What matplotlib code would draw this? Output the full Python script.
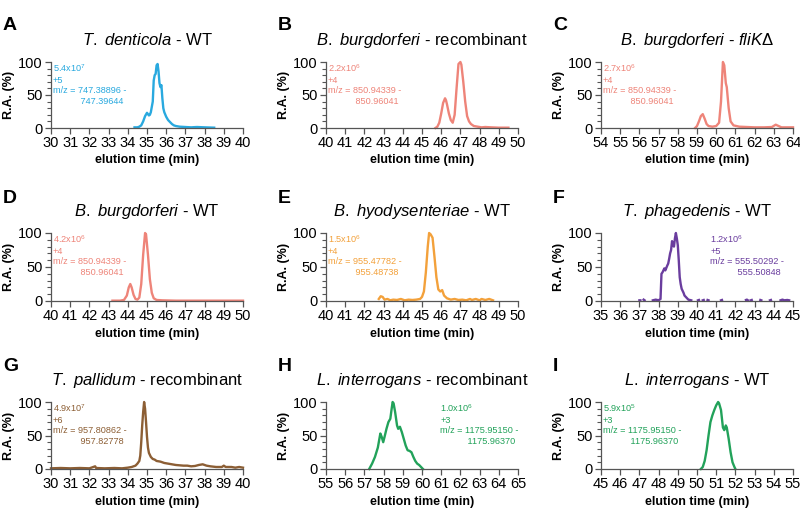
import numpy as np
import matplotlib
matplotlib.use("Agg")
import matplotlib.pyplot as plt
from matplotlib.ticker import MultipleLocator

plt.rcParams['font.family'] = ['Liberation Sans', 'DejaVu Sans']
plt.rcParams['mathtext.fontset'] = 'custom'
plt.rcParams['mathtext.rm'] = 'Liberation Sans'
plt.rcParams['mathtext.it'] = 'Liberation Sans:italic'
plt.rcParams['mathtext.bf'] = 'Liberation Sans:bold'

nan = np.nan

# ---------------- data ----------------
panel_letters = ["A", "B", "C", "D", "E", "F", "G", "H", "I"]
titles = [
    r"$\mathit{T.\ denticola}$ - WT",
    r"$\mathit{B.\ burgdorferi}$ - recombinant",
    r"$\mathit{B.\ burgdorferi}$ - $\mathit{fliK}$Δ",
    r"$\mathit{B.\ burgdorferi}$ - WT",
    r"$\mathit{B.\ hyodysenteriae}$ - WT",
    r"$\mathit{T.\ phagedenis}$ - WT",
    r"$\mathit{T.\ pallidum}$ - recombinant",
    r"$\mathit{L.\ interrogans}$ - recombinant",
    r"$\mathit{L.\ interrogans}$ - WT",
]
x_ranges = [(30, 40), (40, 50), (54, 64), (40, 50), (40, 50), (35, 45), (30, 40), (55, 65), (45, 55)]
intensities = ["5.4x10$^7$", "2.2x10$^6$", "2.7x10$^6$", "4.2x10$^6$", "1.5x10$^6$",
               "1.2x10$^6$", "4.9x10$^7$", "1.0x10$^6$", "5.9x10$^5$"]
charges = ["+5", "+4", "+4", "+4", "+4", "+5", "+6", "+3", "+3"]
mz_low = ["747.38896", "850.94339", "850.94339", "850.94339", "955.47782",
          "555.50292", "957.80862", "1175.95150", "1175.95150"]
mz_high = ["747.39644", "850.96041", "850.96041", "850.96041", "955.48738",
           "555.50848", "957.82778", "1175.96370", "1175.96370"]
colors = ["#29a9df", "#ee8479", "#ee8479", "#ee8479", "#f3a13b",
          "#6a3d9e", "#8c5e34", "#22a25a", "#22a25a"]

a_time = [34.35, 34.5, 34.6, 34.7, 34.8, 34.9, 35.0, 35.05, 35.1, 35.15, 35.2, 35.3, 35.35, 35.4,
          35.45, 35.5, 35.55, 35.6, 35.65, 35.7, 35.75, 35.8, 35.85, 35.9, 36.0, 36.1, 36.2, 36.3,
          36.4, 36.5, 36.7, 37.0, 37.3, 37.6, 38.0, 38.5]
a_ra = [1, 1, 2, 4, 10, 18, 23, 21, 19, 20, 24, 40, 72, 80, 82, 95, 97, 86, 68, 62, 65, 45, 30, 24,
        17, 12, 9, 6, 4, 3, 2, 1.5, 1, 1.5, 1, 0.5]

b_time = [45.7, 45.8, 45.9, 46.0, 46.1, 46.2, 46.25, 46.3, 46.4, 46.5, 46.6, 46.7, 46.8, 46.9, 47.0,
          47.05, 47.15, 47.25, 47.35, 47.45, 47.55, 47.7, 47.9, 48.1, 48.3, 48.6, 49.0, 49.5]
b_ra = [0, 2, 8, 22, 38, 45, 42, 36, 22, 12, 8, 20, 60, 97, 100, 96, 70, 40, 18, 10, 6, 3, 2, 1,
        1.5, 1, 0.5, 0.5]

c_time = [58.9, 59.0, 59.1, 59.2, 59.3, 59.4, 59.5, 59.6, 59.8, 60.0, 60.15, 60.25, 60.35, 60.42,
          60.5, 60.55, 60.65, 60.75, 60.9, 61.2, 61.6, 62.0, 62.5, 62.9, 63.1, 63.25, 63.4, 64.0]
c_ra = [0, 3, 10, 18, 21, 14, 6, 3, 2, 3, 8, 40, 100, 95, 68, 62, 30, 10, 4, 2, 1.5, 1, 1, 1.5, 5,
        3, 1, 1]

d_time = [43.2, 43.6, 43.8, 43.95, 44.05, 44.13, 44.2, 44.3, 44.4, 44.5, 44.6, 44.7, 44.8, 44.9,
          44.95, 45.05, 45.15, 45.25, 45.35, 45.5, 45.8, 46.5, 50.0]
d_ra = [0.5, 0.5, 1.5, 8, 20, 25, 20, 9, 3, 2, 5, 25, 68, 100, 98, 68, 32, 12, 4, 1.5, 1, 0.5, 0.5]

e_time = [42.75, 42.85, 42.95, 43.05, 43.2, 43.35, 43.5, 43.7, 43.9, 44.1, 44.3, 44.5, 44.7, 44.9,
          45.0, 45.1, 45.2, 45.3, 45.37, 45.45, 45.55, 45.65, 45.75, 45.85, 45.95, 46.05, 46.15,
          46.3, 46.5, 46.7, 46.9, 47.1, 47.3, 47.5, 47.6, 47.8, 48.0, 48.1, 48.3, 48.5, 48.7]
e_ra = [3, 7, 6, 2, 3, 1, 2, 1.5, 3, 1, 2, 1.5, 2, 3, 6, 14, 42, 80, 100, 98, 93, 65, 35, 17, 14,
        16, 8, 4, 2, 3, 1.5, 2, 1, 3, 1.5, 3, 1, 3, 1.5, 3, 1]

f_time = [37.0, 37.05, nan, 37.22, 37.27, nan, 37.7, 37.85, 38.0, 38.1, 38.15, 38.2, 38.3, 38.35,
          38.45, 38.5, 38.55, 38.6, 38.65, 38.7, 38.75, 38.8, 38.85, 38.9, 38.95, 39.0, 39.05, 39.1,
          39.15, 39.2, 39.3, 39.35, 39.45, 39.55, 39.7, nan, 40.05, 40.1, nan, 40.3, 40.35, nan,
          40.55, 40.6, nan, 41.25, 41.3, nan, 42.55, 42.6, 42.65, nan, 42.8, 42.85, nan, 43.3,
          43.35, nan, 43.8, 43.85, nan, 44.35, 44.45, 44.55, 44.7, 44.8]
f_ra = [1, 1, nan, 2, 1, nan, 1, 2, 1, 3, 40, 42, 48, 45, 52, 55, 62, 70, 75, 88, 82, 80, 92, 100,
        92, 82, 60, 35, 25, 18, 12, 8, 5, 2, 1, nan, 1, 1.5, nan, 1, 1.5, nan, 1.5, 1, nan, 1, 1.5,
        nan, 1.5, 2, 1, nan, 1, 1.5, nan, 1.5, 1, nan, 1, 1.5, nan, 1, 2, 1, 1.5, 1]

g_time = [30.0, 30.5, 31.0, 31.5, 32.0, 32.3, 32.35, 32.8, 33.3, 33.7, 34.0, 34.2, 34.4, 34.5, 34.6,
          34.65, 34.7, 34.75, 34.8, 34.85, 34.9, 34.95, 35.0, 35.05, 35.1, 35.2, 35.3, 35.4, 35.5,
          35.7, 35.9, 36.1, 36.3, 36.5, 36.7, 36.9, 37.1, 37.3, 37.5, 37.7, 37.9, 38.1, 38.3, 38.6,
          38.9, 39.0, 39.1, 39.4, 39.6, 39.8, 40.0]
g_ra = [1, 1.5, 1, 1.5, 1, 4, 1.5, 1, 1.5, 1, 2, 3, 5, 8, 12, 20, 40, 65, 85, 100, 90, 70, 48, 32,
        24, 18, 15, 14, 12, 11, 9, 8, 7, 6, 5.5, 5, 5, 4, 4.5, 6, 7, 5, 4, 3, 3, 5, 3, 3, 2, 3, 2]

h_time = [57.25, 57.4, 57.55, 57.7, 57.83, 57.9, 57.98, 58.05, 58.15, 58.25, 58.35, 58.42, 58.47,
          58.52, 58.6, 58.7, 58.76, 58.85, 58.95, 59.05, 59.15, 59.25, 59.35, 59.45, 59.55, 59.65,
          59.75, 59.85, 59.95, 60.05]
h_ra = [0, 8, 18, 32, 53, 48, 40, 48, 60, 70, 75, 90, 100, 98, 85, 65, 60, 63, 55, 45, 35, 28, 27,
        25, 18, 12, 8, 6, 3, 0]

i_time = [50.2, 50.3, 50.4, 50.5, 50.6, 50.7, 50.8, 50.9, 51.0, 51.1, 51.15, 51.25, 51.35, 51.42,
          51.5, 51.55, 51.65, 51.75, 51.85, 51.95, 52.0]
i_ra = [0, 3, 12, 28, 50, 70, 80, 88, 95, 100, 98, 88, 62, 58, 65, 62, 45, 25, 10, 3, 0]

times = [a_time, b_time, c_time, d_time, e_time, f_time, g_time, h_time, i_time]
ras = [a_ra, b_ra, c_ra, d_ra, e_ra, f_ra, g_ra, h_ra, i_ra]
# annotation x position (data units); None -> just right of the y axis
annot_x = [None, None, None, None, None, 40.7, None, 60.96, None]

# ---------------- figure ----------------
fig = plt.figure(figsize=(8.0, 5.19), dpi=100)
W, H = 800.0, 519.0
col_left = [51, 326, 601]
col_w = 192
row_bottom = [128, 301, 469]
row_h = [66, 68, 67]

for k in range(9):
    r, c = divmod(k, 3)
    left = col_left[c] / W
    bottom = (H - row_bottom[r]) / H
    ax = fig.add_axes([left, bottom, col_w / W, row_h[r] / H])
    col = colors[k]
    ax.plot(times[k], ras[k], color=col, lw=1.7, clip_on=False, solid_joinstyle='round')
    x0, x1 = x_ranges[k]
    ax.set_xlim(x0, x1)
    ax.set_ylim(0, 100)
    ax.xaxis.set_major_locator(MultipleLocator(1))
    ax.yaxis.set_major_locator(MultipleLocator(50))
    ax.yaxis.set_minor_locator(MultipleLocator(10))
    for s in ['top', 'right']:
        ax.spines[s].set_visible(False)
    for s in ['left', 'bottom']:
        ax.spines[s].set_color('#555555')
        ax.spines[s].set_linewidth(0.9)
    ax.tick_params(axis='both', which='major', direction='out', length=4, width=0.9,
                   color='#555555', labelsize=10.5, pad=2)
    ax.tick_params(axis='y', which='minor', direction='out', length=3, width=0.8, color='#555555')
    ax.set_xlabel("elution time (min)", fontsize=9, fontweight='bold', labelpad=3)
    ax.set_ylabel("R.A. (%)", fontsize=9, fontweight='bold', labelpad=2)
    ax.set_title(titles[k], fontsize=12, pad=12)

    tx = annot_x[k] if annot_x[k] is not None else x0 + 0.08
    txt = (intensities[k] + "\n" + charges[k] + "\n" + "m/z = " + mz_low[k] + " -\n"
           + " " * 11 + mz_high[k])
    ax.text(tx, 99, txt, color=col, fontsize=6.6, va='top', ha='left', linespacing=1.2)

    # panel letter
    fig.text((col_left[c] - 48) / W, 1 - (row_bottom[r] - 111) / H, panel_letters[k],
             fontsize=14, fontweight='bold', va='top', ha='left')

fig.savefig("out.png", dpi=100)
